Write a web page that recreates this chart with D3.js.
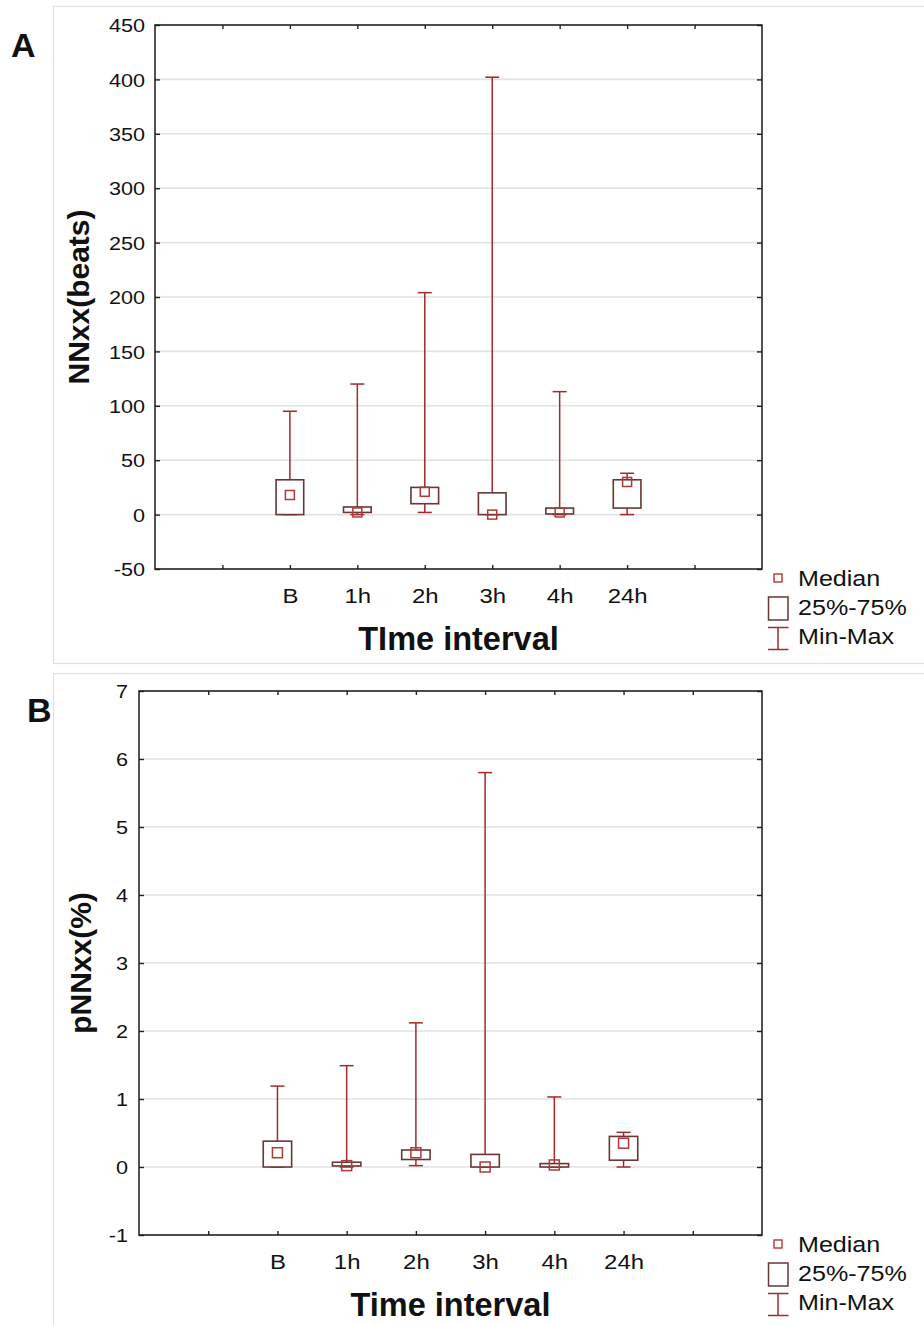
<!DOCTYPE html>
<html>
<head>
<meta charset="utf-8">
<script src="https://cdn.jsdelivr.net/npm/d3@7"></script>
<style>
  html, body { margin: 0; padding: 0; background: #fff; }
  svg { display: block; font-family: "Liberation Sans", Arial, sans-serif; }
</style>
</head>
<body>
<script>
// ---------------- data ----------------
const categories = ["B", "1h", "2h", "3h", "4h", "24h"];

// Panel A: NNxx (beats)
const nnMin = [0, 0, 2, 0, 0, 0];
const nnQ1  = [0, 2, 10, 0, 0.6, 6];
const nnMed = [18, 2, 21, 0, 2, 30];
const nnQ3  = [32, 7, 25, 20, 6, 32];
const nnMax = [95, 120, 204, 402, 113, 38];
const nnTicks = [-50, 0, 50, 100, 150, 200, 250, 300, 350, 400, 450];

// Panel B: pNNxx (%)
const pnnMin = [0, 0, 0.02, 0, 0, 0];
const pnnQ1  = [0, 0.015, 0.11, 0, 0, 0.1];
const pnnMed = [0.21, 0.02, 0.21, 0, 0.03, 0.35];
const pnnQ3  = [0.38, 0.07, 0.25, 0.185, 0.05, 0.45];
const pnnMax = [1.19, 1.49, 2.12, 5.8, 1.03, 0.51];
const pnnTicks = [-1, 0, 1, 2, 3, 4, 5, 6, 7];

const legendLabels = ["Median", "25%-75%", "Min-Max"];

// ---------------- styles ----------------
const WHISKER = "#a32a2a";
const BOXC = "#6a3535";
const MEDC = "#b03838";
const GRID = "#e2e2e2";

const svg = d3.select("body").append("svg")
  .attr("width", 924).attr("height", 1325);

// panel frames
svg.append("rect").attr("x", 53.5).attr("y", 6.5).attr("width", 872).attr("height", 657)
  .attr("fill", "none").attr("stroke", "#e0e0e0").attr("stroke-width", 1.2);
svg.append("rect").attr("x", 53.5).attr("y", 673.5).attr("width", 872).attr("height", 700)
  .attr("fill", "none").attr("stroke", "#e0e0e0").attr("stroke-width", 1.2);

function stretchText(sel, tx, ty, sx, size, anchor, weight) {
  sel.attr("x", 0).attr("y", 0).attr("dy", null)
    .attr("text-anchor", anchor)
    .attr("transform", `translate(${tx},${ty}) scale(${sx},1)`)
    .attr("font-size", size)
    .attr("font-weight", weight || "normal")
    .attr("fill", "#111");
}

function drawPanel(p) {
  const g = svg.append("g");
  const slots = ["s0", "s1", ...categories, "s8", "s9"];
  const x = d3.scalePoint().domain(slots).range([p.left, p.right]);
  const y = d3.scaleLinear().domain([p.ticks[0], p.ticks[p.ticks.length - 1]]).range([p.bottom, p.top]);
  const step = x.step();
  const catSet = new Set(categories);

  // gridlines
  g.append("g").selectAll("line").data(p.ticks).join("line")
    .attr("x1", p.left).attr("x2", p.right)
    .attr("y1", d => y(d)).attr("y2", d => y(d))
    .attr("stroke", GRID).attr("stroke-width", 1.6);

  // axes
  const yl = g.append("g").attr("transform", `translate(${p.left},0)`)
    .call(d3.axisLeft(y).tickValues(p.ticks).tickSize(-5).tickSizeOuter(0).tickFormat(d => String(d)));
  const yr = g.append("g").attr("transform", `translate(${p.right},0)`)
    .call(d3.axisRight(y).tickValues(p.ticks).tickSize(-5).tickSizeOuter(0).tickFormat(""));
  const xb = g.append("g").attr("transform", `translate(0,${p.bottom})`)
    .call(d3.axisBottom(x).tickValues(slots.slice(1, -1)).tickSize(-4).tickSizeOuter(0)
      .tickFormat(d => catSet.has(d) ? d : ""));
  const xt = g.append("g").attr("transform", `translate(0,${p.top})`)
    .call(d3.axisTop(x).tickValues(slots.slice(1, -1)).tickSize(-4).tickSizeOuter(0).tickFormat(""));
  [yl, yr, xb, xt].forEach(a => {
    a.select(".domain").remove();
    a.selectAll(".tick line").attr("stroke", "#222").attr("stroke-width", 1.4);
  });
  yl.selectAll(".tick text").each(function () {
    stretchText(d3.select(this), -p.ylabGap, 0, 1.17, 18.5, "end");
    d3.select(this).attr("dy", "0.36em");
  });
  xb.selectAll(".tick text").each(function () {
    stretchText(d3.select(this), 0, 34, 1.14, 21, "middle");
  });

  // frame
  g.append("rect").attr("x", p.left).attr("y", p.top)
    .attr("width", p.right - p.left).attr("height", p.bottom - p.top)
    .attr("fill", "none").attr("stroke", "#1a1a1a").attr("stroke-width", 1.5);

  // boxes
  const bw = step * 0.41, cap = 14, ms = p.medSize;
  categories.forEach((c, i) => {
    const cx = x(c);
    const bg = g.append("g");
    bg.append("line").attr("x1", cx).attr("x2", cx)
      .attr("y1", y(p.max[i])).attr("y2", y(p.min[i]))
      .attr("stroke", WHISKER).attr("stroke-width", 1.5);
    [p.max[i], p.min[i]].forEach(v => {
      bg.append("line").attr("x1", cx - cap / 2).attr("x2", cx + cap / 2)
        .attr("y1", y(v)).attr("y2", y(v))
        .attr("stroke", WHISKER).attr("stroke-width", 1.5);
    });
    bg.append("rect").attr("x", cx - bw / 2).attr("y", y(p.q3[i]))
      .attr("width", bw).attr("height", Math.max(0, y(p.q1[i]) - y(p.q3[i])))
      .attr("fill", "#fff").attr("stroke", BOXC).attr("stroke-width", 1.6);
    bg.append("rect").attr("x", cx - ms / 2).attr("y", y(p.med[i]) - ms / 2)
      .attr("width", ms).attr("height", ms)
      .attr("fill", "none").attr("stroke", MEDC).attr("stroke-width", 1.5);
  });

  // axis titles
  g.append("text").text(p.xTitle)
    .attr("x", (p.left + p.right) / 2).attr("y", p.bottom + 81)
    .attr("text-anchor", "middle").attr("font-size", 32.5).attr("font-weight", "bold").attr("fill", "#111");
  g.append("text").text(p.yTitle)
    .attr("transform", `translate(${p.yTitleX},${(p.top + p.bottom) / 2}) rotate(-90)`)
    .attr("text-anchor", "middle").attr("font-size", 30).attr("font-weight", "bold").attr("fill", "#111");
  // panel letter
  g.append("text").text(p.letter)
    .attr("x", p.letterX).attr("y", p.letterY)
    .attr("font-size", 34).attr("font-weight", "bold").attr("fill", "#111");

  // legend
  const ly = p.legendY;
  const lg = g.append("g");
  lg.append("rect").attr("x", 774).attr("y", ly - 4).attr("width", 8).attr("height", 8)
    .attr("fill", "none").attr("stroke", MEDC).attr("stroke-width", 1.4);
  lg.append("rect").attr("x", 768.5).attr("y", ly + 19).attr("width", 19.5).attr("height", 23)
    .attr("fill", "none").attr("stroke", BOXC).attr("stroke-width", 1.5);
  lg.append("line").attr("x1", 778).attr("x2", 778).attr("y1", ly + 49.5).attr("y2", ly + 71.5)
    .attr("stroke", WHISKER).attr("stroke-width", 1.5);
  [ly + 49.5, ly + 71.5].forEach(yy => lg.append("line")
    .attr("x1", 768).attr("x2", 788.5).attr("y1", yy).attr("y2", yy)
    .attr("stroke", WHISKER).attr("stroke-width", 1.5));
  const lbase = [ly + 8, ly + 37, ly + 66];
  lg.selectAll("text.leg").data(legendLabels).join("text").attr("class", "leg")
    .text(d => d)
    .each(function (d, i) { stretchText(d3.select(this), 798, lbase[i], 1.14, 22, "start"); });
}

drawPanel({
  letter: "A", letterX: 11, letterY: 57,
  left: 155, right: 762, top: 25, bottom: 569,
  ticks: nnTicks, ylabGap: 10, medSize: 9,
  min: nnMin, q1: nnQ1, med: nnMed, q3: nnQ3, max: nnMax,
  xTitle: "TIme interval", yTitle: "NNxx(beats)", yTitleX: 89,
  legendY: 578
});

drawPanel({
  letter: "B", letterX: 27, letterY: 722,
  left: 139, right: 762, top: 691, bottom: 1235,
  ticks: pnnTicks, ylabGap: 11, medSize: 10,
  min: pnnMin, q1: pnnQ1, med: pnnMed, q3: pnnQ3, max: pnnMax,
  xTitle: "Time interval", yTitle: "pNNxx(%)", yTitleX: 91,
  legendY: 1244
});
</script>
</body>
</html>
